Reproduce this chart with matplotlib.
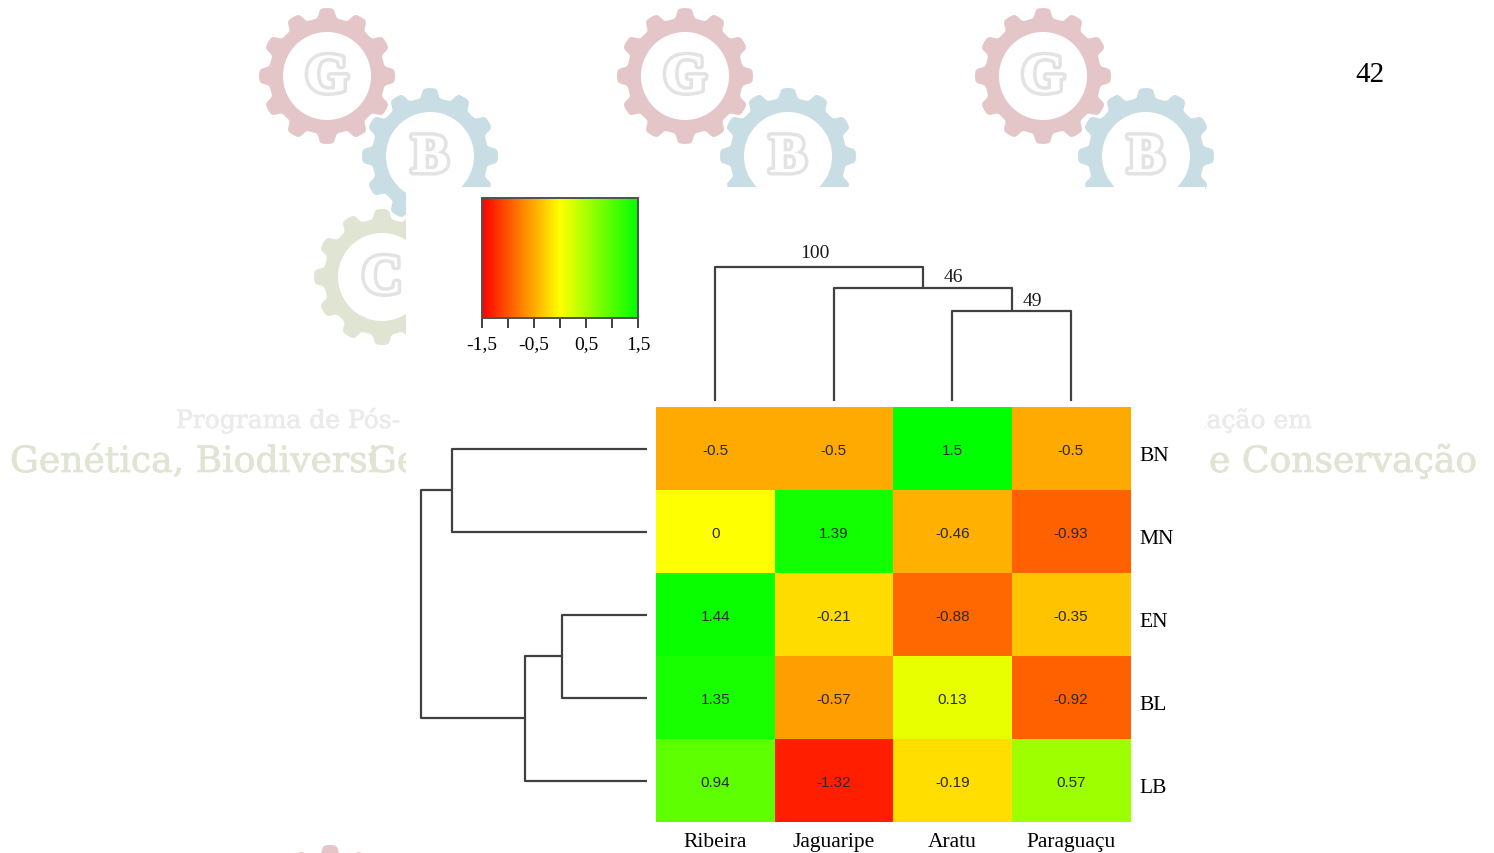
import numpy as np
import matplotlib
matplotlib.use("Agg")
import matplotlib.pyplot as plt
from matplotlib.colors import LinearSegmentedColormap
from matplotlib.patches import Rectangle, Polygon, Circle
import matplotlib.patheffects as pe

W, H = 1494, 854

# --- data -------------------------------------------------------------
columns = ["Ribeira", "Jaguaripe", "Aratu", "Paraguaçu"]
rows = ["BN", "MN", "EN", "BL", "LB"]
BN = [-0.5, -0.5, 1.5, -0.5]
MN = [0, 1.39, -0.46, -0.93]
EN = [1.44, -0.21, -0.88, -0.35]
BL = [1.35, -0.57, 0.13, -0.92]
LB = [0.94, -1.32, -0.19, 0.57]

# dendrogram merges (a, b, height), scipy-style node ids
col_merges = [(2, 3, 90), (1, 4, 113), (0, 5, 134)]
col_support = [49, 46, 100]
row_merges = [(0, 1, 195), (2, 3, 85), (6, 4, 122), (5, 7, 226)]

cbar_ticks = [-1.5, -1.0, -0.5, 0.0, 0.5, 1.0, 1.5]
cbar_labels = ["-1,5", "", "-0,5", "", "0,5", "", "1,5"]
page_number = "42"

# visible pieces of the watermark text (the rest is under the chart)
wm_left = [("Programa de Pós-", 176, 429, 18, "#ebebeb"),
           ("Genética, Biodiversi", 10, 473, 26, "#dfe5d2"),
           ("Genética", 368, 473, 26, "#dfe5d2")]
wm_right = [("uação em", 1312, 429, 18, "#ebebeb"),
            ("e Conservação", 1477, 473, 26, "#dfe5d2")]

SERIF = ["Liberation Serif", "DejaVu Serif"]
SANS = ["Liberation Sans", "DejaVu Sans"]
LINE = "#404040"


def px_axes(fig, x0, y0, x1, y1):
    return fig.add_axes([x0 / W, 1 - y1 / H, (x1 - x0) / W, (y1 - y0) / H])


def gear(ax, cx, cy, color, letter=None, r_out=68, r_in=44, teeth=12):
    t = np.linspace(0, 2 * np.pi, 720)
    r = r_out - 10 + 10 * (np.tanh(2.5 * np.cos(teeth * t)) + 1) / 2
    ax.add_patch(Polygon(np.c_[cx + r * np.cos(t), cy + r * np.sin(t)],
                         closed=True, fc=color, ec="none", zorder=1))
    ax.add_patch(Circle((cx, cy), r_in, fc="white", ec="none", zorder=2))
    if letter:
        ax.text(cx, cy + 2, letter, fontsize=40, family=SERIF, weight="bold",
                color="white", ha="center", va="center", zorder=3,
                path_effects=[pe.withStroke(linewidth=5, foreground="#e3e3e3")])


def dendro(ax, merges, n, orient):
    pos = {i: i + 0.5 for i in range(n)}
    hgt = {i: 0.0 for i in range(n)}
    nodes = []
    for k, (a, b, h) in enumerate(merges):
        xs = [pos[a], pos[a], pos[b], pos[b]]
        ys = [hgt[a], h, h, hgt[b]]
        if orient == "top":
            ax.plot(xs, ys, color=LINE, lw=1.6, solid_capstyle="butt")
        else:
            ax.plot(ys, xs, color=LINE, lw=1.6, solid_capstyle="butt")
        pos[n + k] = (pos[a] + pos[b]) / 2
        hgt[n + k] = h
        nodes.append((pos[n + k], h))
    return nodes


fig = plt.figure(figsize=(W / 100, H / 100), dpi=100)

# --- watermark background ---------------------------------------------
bg = fig.add_axes([0, 0, 1, 1])
bg.set_xlim(0, W)
bg.set_ylim(H, 0)
bg.axis("off")
for k in range(3):
    dx = 358 * k
    gear(bg, 327 + dx, 77, "#e4c6c9", "G")
    gear(bg, 430 + dx, 157, "#c9dde4", "B")
    gear(bg, 382 + dx, 278, "#dfe5d2", "C")
gear(bg, 330, 914, "#e4c6c9")

shown_l = Rectangle((0, 0), 406, H, transform=bg.transData)
shown_r = Rectangle((1205, 0), W - 1205, H, transform=bg.transData)
for pieces, ha, clip in ((wm_left, "left", shown_l), (wm_right, "right", shown_r)):
    for txt, x, y, fs, col in pieces:
        t = bg.text(x, y, txt, fontsize=fs, family="DejaVu Serif", color=col,
                    ha=ha, va="baseline", zorder=2,
                    path_effects=[pe.withStroke(linewidth=0.5, foreground=col)])
        t.set_clip_path(clip)

bg.add_patch(Rectangle((406, 188), 1205 - 406, H - 188 + 5, fc="white",
                       ec="none", zorder=5))
bg.text(1370, 75, page_number, fontsize=21, family=SERIF, color="black",
        ha="center", va="center", zorder=6)

# --- heatmap ------------------------------------------------------------
cmap = LinearSegmentedColormap.from_list("ryg", ["#ff0000", "#ffff00", "#00ff00"])
values = np.array([BN, MN, EN, BL, LB])

ax = px_axes(fig, 656, 408, 1130, 823)
im = ax.imshow(values, cmap=cmap, vmin=-1.5, vmax=1.5, aspect="auto",
               interpolation="nearest", extent=(0, 4, 5, 0))
for i in range(len(rows)):
    for j in range(len(columns)):
        ax.text(j + 0.5, i + 0.52, f"{values[i, j]:g}", ha="center", va="center",
                fontsize=11, family=SANS, color="#2a2a2a")
ax.set_xlim(0, 4)
ax.set_ylim(5, 0)
ax.set_xticks(np.arange(len(columns)) + 0.5, columns, family=SERIF, fontsize=15.5)
ax.set_yticks(np.arange(len(rows)) + 0.56, rows, family=SERIF, fontsize=15.5)
ax.yaxis.tick_right()
ax.tick_params(axis="both", length=0)
ax.tick_params(axis="x", pad=7)
ax.tick_params(axis="y", pad=7)
for s in ax.spines.values():
    s.set_visible(False)

# --- top dendrogram -----------------------------------------------------
top = px_axes(fig, 656, 262, 1130, 402)
top.set_xlim(0, 4)
top.set_ylim(0, 140)
top.axis("off")
nodes = dendro(top, col_merges, len(columns), "top")
support_dx = [0.18, 0.26, -0.03]
support_dy = [2, 3, 6]
for (nx, nh), sv, ddx, ddy in zip(nodes, col_support, support_dx, support_dy):
    top.text(nx + ddx, nh + ddy, str(sv), ha="center", va="bottom",
             fontsize=14, family=SERIF, color="#1a1a1a", clip_on=False)

# --- left dendrogram ----------------------------------------------------
left = px_axes(fig, 415, 408, 647, 823)
left.set_xlim(232, 0)
left.set_ylim(5, 0)
left.axis("off")
dendro(left, row_merges, len(rows), "left")

# --- colour key ---------------------------------------------------------
cax = px_axes(fig, 482, 199, 638, 319)
cb = fig.colorbar(im, cax=cax, orientation="horizontal", ticks=cbar_ticks)
cb.set_ticklabels(cbar_labels)
cb.outline.set_edgecolor("#505050")
cb.outline.set_linewidth(1.4)
cax.tick_params(axis="x", direction="out", length=7, width=1.4, color=LINE,
                pad=5, labelsize=14)
for lbl in cax.get_xticklabels():
    lbl.set_family(SERIF)

fig.savefig("out.png", dpi=100)
